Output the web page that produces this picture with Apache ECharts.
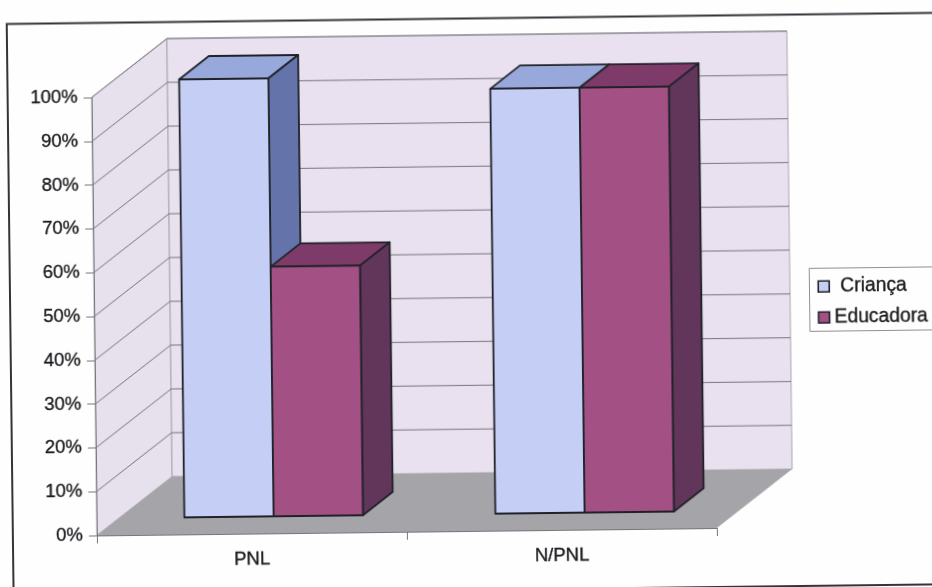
<!DOCTYPE html>
<html>
<head>
<meta charset="utf-8">
<style>
  html, body { margin: 0; padding: 0; width: 932px; height: 587px; overflow: hidden; background: #fefefe; }
  #chart { position: absolute; left: 0; top: 0; width: 960px; height: 610px;
           transform-origin: 466px 293.5px; transform: rotate(-0.6875deg); }
</style>
</head>
<body>
<div id="chart"></div>
<script src="https://cdn.jsdelivr.net/npm/echarts@6/dist/echarts.min.js"></script>
<script>
// Chart values
const categories = ['PNL', 'N/PNL'];
const crianca = [100, 97];
const educadora = [57, 97];
const gridTicks = [10, 20, 30, 40, 50, 60, 70, 80, 90, 100];

// Oblique projection used for the pseudo 3D box
const WALL_DX = 76, WALL_DY = -58;
const BAR_INSET_DX = 22, BAR_INSET_DY = -17;
const BAR_DEPTH_DX = 30, BAR_DEPTH_DY = -23;
const BAR_BAND_RATIO = 89.3 / 310;
const BAND_NUDGE = [0, 1];

const FONT = '"Liberation Sans", Arial, sans-serif';
const TEXT = '#1c1c20';
const OUTLINE = '#1f2229';
const heavyText = { fontFamily: FONT, color: TEXT, textBorderColor: TEXT, textBorderWidth: 0.35 };
const faces = {
  crianca: { front: '#c5cef4', top: '#99a8da', side: '#6474aa' },
  educadora: { front: '#a35084', top: '#7e3a68', side: '#61365a' }
};

function box(api) {
  const band = api.size([1, 0])[0];
  const p0 = api.coord([0, 0]);
  const p100 = api.coord([0, 100]);
  return { left: p0[0] - band / 2, right: p0[0] + band * 1.5, bottom: p0[1], top: p100[1] };
}

function poly(points, style) {
  return { type: 'polygon', shape: { points }, style };
}

// Side wall, back wall and floor
function renderWalls(params, api) {
  const b = box(api);
  const d = [WALL_DX, WALL_DY];
  return {
    type: 'group',
    children: [
      poly([[b.left, b.bottom], [b.left, b.top], [b.left + d[0], b.top + d[1]], [b.left + d[0], b.bottom + d[1]]],
        { fill: '#e7e0ed', stroke: '#a9a7ae', lineWidth: 1 }),
      poly([[b.left + d[0], b.bottom + d[1]], [b.left + d[0], b.top + d[1]], [b.right + d[0], b.top + d[1]], [b.right + d[0], b.bottom + d[1]]],
        { fill: '#e9e1ef', stroke: '#a9a7ae', lineWidth: 1 }),
      poly([[b.left, b.bottom], [b.right, b.bottom], [b.right + d[0], b.bottom + d[1]], [b.left + d[0], b.bottom + d[1]]],
        { fill: '#a5a4a9' })
    ]
  };
}

// One gridline: across the side wall, then along the back wall
function renderGridLine(params, api) {
  const b = box(api);
  const y = api.coord([0, api.value(0)])[1];
  return {
    type: 'polyline',
    shape: { points: [[b.left, y], [b.left + WALL_DX, y + WALL_DY], [b.right + WALL_DX, y + WALL_DY]] },
    style: { fill: null, stroke: '#77767c', lineWidth: 1 }
  };
}

// One bar as three faces; slot -1 sits left of the category centre, slot 0 right of it
function barRenderer(colors, slot) {
  return function (params, api) {
    const band = api.size([1, 0])[0];
    const w = band * BAR_BAND_RATIO;
    const idx = api.value(0);
    const top = api.coord([idx, api.value(1)]);
    const base = api.coord([idx, 0]);
    const x0 = top[0] + slot * w + BAR_INSET_DX + BAND_NUDGE[idx];
    const x1 = x0 + w;
    const yt = top[1] + BAR_INSET_DY;
    const yb = base[1] + BAR_INSET_DY;
    const dx = BAR_DEPTH_DX, dy = BAR_DEPTH_DY;
    const line = { stroke: OUTLINE, lineWidth: 1.8, lineJoin: 'round' };
    return {
      type: 'group',
      children: [
        poly([[x0, yt], [x1, yt], [x1 + dx, yt + dy], [x0 + dx, yt + dy]], { fill: colors.top, ...line }),
        poly([[x1, yt], [x1 + dx, yt + dy], [x1 + dx, yb + dy], [x1, yb]], { fill: colors.side, ...line }),
        poly([[x0, yt], [x1, yt], [x1, yb], [x0, yb]], { fill: colors.front, ...line })
      ]
    };
  };
}

const chart = echarts.init(document.getElementById('chart'), null, { renderer: 'canvas' });
chart.setOption({
  animation: false,
  backgroundColor: '#fefefe',
  grid: { left: 94, top: 93, width: 620, height: 438, containLabel: false },
  xAxis: {
    type: 'category',
    data: categories,
    z: 5,
    axisLine: { lineStyle: { color: '#77767c', width: 1 } },
    axisTick: { show: true, length: 8, alignWithLabel: false, lineStyle: { color: '#77767c' } },
    axisLabel: { margin: 16, fontSize: 18.5, ...heavyText },
    splitLine: { show: false }
  },
  yAxis: {
    type: 'value',
    min: 0,
    max: 100,
    interval: 10,
    z: 5,
    axisLine: { show: true, lineStyle: { color: '#77767c', width: 1 } },
    axisTick: { show: true, length: 8, lineStyle: { color: '#77767c' } },
    axisLabel: { margin: 14, formatter: '{value}%', fontSize: 18.5, padding: [2, 0, 0, 0], ...heavyText },
    splitLine: { show: false }
  },
  legend: [
    {
      left: 817.5, top: 281, padding: 0, itemWidth: 11, itemHeight: 11, selectedMode: false,
      textStyle: { fontSize: 19.3, padding: [0, 0, 0, 6], ...heavyText },
      data: [{ name: 'Criança', icon: 'rect', itemStyle: { color: faces.crianca.front, borderColor: OUTLINE, borderWidth: 1.6 } }]
    },
    {
      left: 817.5, top: 312, padding: 0, itemWidth: 11, itemHeight: 11, selectedMode: false,
      textStyle: { fontSize: 19.3, ...heavyText },
      data: [{ name: 'Educadora', icon: 'rect', itemStyle: { color: faces.educadora.front, borderColor: OUTLINE, borderWidth: 1.6 } }]
    }
  ],
  graphic: [
    { type: 'rect', z: -1, shape: { x: 10, y: 18.5, width: 945, height: 571.5 }, style: { fill: '#fefefe', stroke: '#33343a', lineWidth: 2 } },
    { type: 'rect', z: 0, shape: { x: 809.5, y: 272.5, width: 145, height: 63 }, style: { fill: '#fefefe', stroke: '#8f8f94', lineWidth: 1 } }
  ],
  series: [
    { name: 'walls', type: 'custom', coordinateSystem: 'cartesian2d', silent: true, renderItem: renderWalls, data: [[0]] },
    { name: 'grid', type: 'custom', coordinateSystem: 'cartesian2d', silent: true, renderItem: renderGridLine, data: gridTicks.map(v => [v]) },
    { name: 'Criança', type: 'custom', coordinateSystem: 'cartesian2d', renderItem: barRenderer(faces.crianca, -1),
      itemStyle: { color: faces.crianca.front }, encode: { x: 0, y: 1 }, data: crianca.map((v, i) => [i, v]) },
    { name: 'Educadora', type: 'custom', coordinateSystem: 'cartesian2d', renderItem: barRenderer(faces.educadora, 0),
      itemStyle: { color: faces.educadora.front }, encode: { x: 0, y: 1 }, data: educadora.map((v, i) => [i, v]) }
  ]
});
</script>
</body>
</html>
